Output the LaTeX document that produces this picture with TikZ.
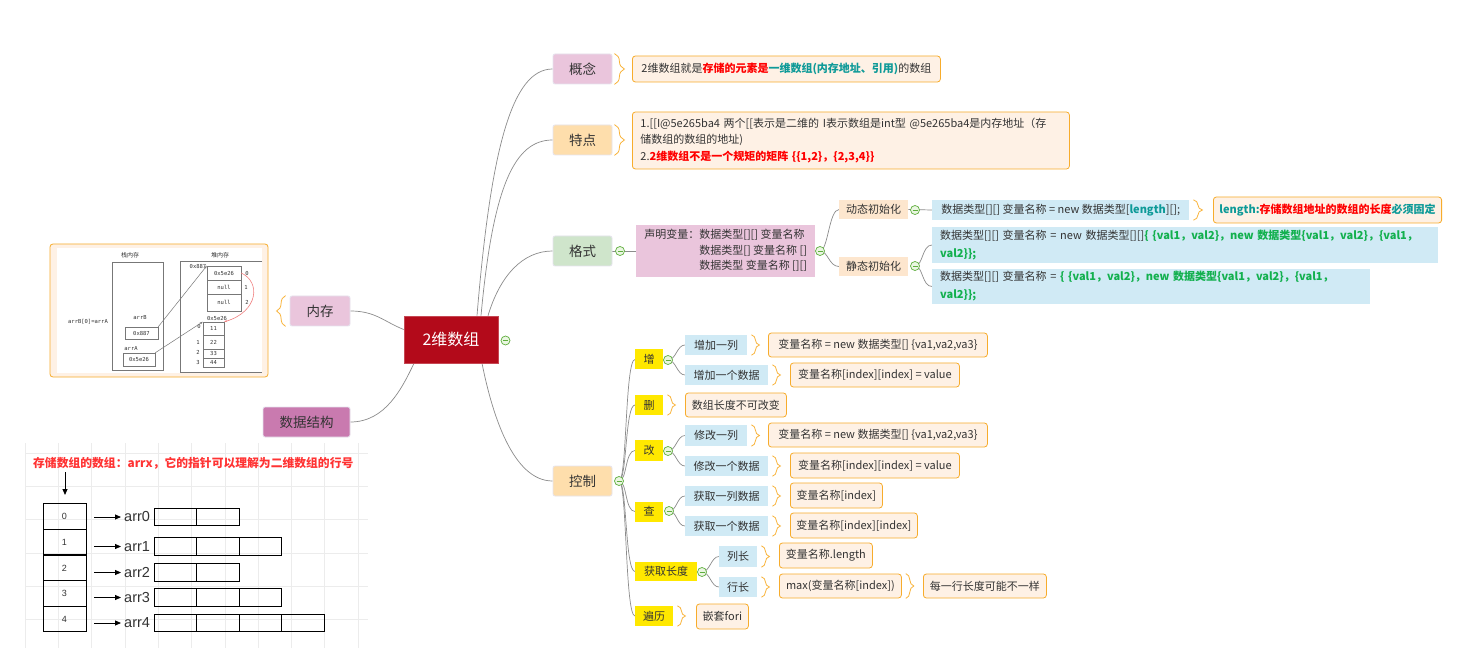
\documentclass[tikz,border=0pt]{standalone}
\usepackage{fontspec}
\setmainfont{Noto Sans CJK SC}
\newfontfamily\arialf{Liberation Sans}
\newfontfamily\monof{DejaVu Sans Mono}
\usetikzlibrary{decorations.pathreplacing,arrows.meta,calc}
\definecolor{txt}{HTML}{333333}
\definecolor{connc}{HTML}{8C8C8C}
\definecolor{rootf}{HTML}{B30A1A}
\definecolor{pinkf}{HTML}{EAC5DC}
\definecolor{orf}{HTML}{FEDEAC}
\definecolor{grf}{HTML}{CFE5CB}
\definecolor{mauvef}{HTML}{C97AAF}
\definecolor{leaff}{HTML}{FEF1E5}
\definecolor{leafb}{HTML}{F7AC2C}
\definecolor{bluef}{HTML}{D0EAF5}
\definecolor{yelf}{HTML}{FFE800}
\definecolor{lorf}{HTML}{FDE6CE}
\definecolor{minusg}{HTML}{5FAE3E}
\definecolor{minusf}{HTML}{EAF6E2}
\definecolor{redt}{HTML}{FF0000}
\definecolor{tealt}{HTML}{0E9A98}
\definecolor{greent}{HTML}{12B04E}
\definecolor{bracec}{HTML}{F9B43C}
\definecolor{lbord}{HTML}{E6E4EE}
\definecolor{gridc}{HTML}{ECECEC}
\definecolor{titred}{HTML}{FF3333}
\definecolor{memg}{HTML}{777777}
\definecolor{memr}{HTML}{F08080}
\pgfdeclarelayer{bgl}
\pgfdeclarelayer{conl}
\pgfsetlayers{bgl,conl,main}
\begin{document}
\begin{tikzpicture}[x=1pt,y=-1pt,
  every node/.style={text=txt},
  conn/.style={draw=connc, line width=0.7pt},
  lone/.style={draw=lbord, line width=0.8pt, rounded corners=2pt, fill=#1, minimum width=59, minimum height=30, font=\fontsize{13.5}{16}\selectfont, inner sep=0pt},
  leafbox/.style={draw=leafb, fill=leaff, line width=0.8pt, rounded corners=3pt, font=\fontsize{11}{16.5}\selectfont, inner xsep=6pt, inner ysep=2pt, anchor=west},
  bluebox/.style={fill=bluef, font=\fontsize{11}{18}\selectfont, inner xsep=6pt, inner ysep=1pt, anchor=west},
  yelbox/.style={fill=yelf, font=\fontsize{11}{13}\selectfont, inner sep=0pt, anchor=west},
  lorbox/.style={fill=lorf, font=\fontsize{11}{13}\selectfont, inner sep=0pt, anchor=west, minimum width=69, minimum height=19},
  mn/.style={circle, draw=minusg, fill=minusf, line width=0.7pt, minimum size=9pt, inner sep=0pt,
    path picture={\draw[minusg, line width=0.8pt] ([xshift=2pt]path picture bounding box.west) -- ([xshift=-2pt]path picture bounding box.east);}},
  brc/.style={draw=bracec, line width=0.8pt, decorate, decoration={brace, amplitude=#1}},
  brc/.default=8pt,
  mt/.style={font=\fontsize{6}{7}\selectfont, inner sep=0pt},
  mm/.style={font=\monof\fontsize{5.5}{6.5}\selectfont, inner sep=0pt},
  arrw/.style={-{Triangle[length=6pt,width=5pt]}, line width=0.8pt},
]
\begin{pgfonlayer}{bgl}
\fill[white] (0,0) rectangle (1473,660);
\foreach \k in {0,...,10} \draw[gridc, line width=0.5pt] (25+33.3*\k,443) -- (25+33.3*\k,648);
\foreach \k in {0,...,5} \draw[gridc, line width=0.5pt] (25,453+33.3*\k) -- (368,453+33.3*\k);
\end{pgfonlayer}
\useasboundingbox (0,0) rectangle (1473,660);

% ---------- root and level 1 ----------
\node[fill=rootf, draw=rootf!75!white, line width=0.6pt, minimum width=94, minimum height=47, font=\fontsize{16}{18}\selectfont, text=white, inner sep=0pt] (root) at (451,339.5) {2维数组};
\node[mn] (rootm) at (505.5,340.5) {};
\node[lone=pinkf] (gn) at (582.5,69) {概念};
\node[lone=orf] (td) at (582.5,140) {特点};
\node[lone=grf] (gs) at (582.5,251) {格式};
\node[lone=orf] (kz) at (582.5,481) {控制};
\node[lone=pinkf, minimum width=60] (nc) at (320,311) {内存};
\node[lone=mauvef, minimum width=87] (sj) at (306.5,422) {数据结构};

% ---------- 概念 / 特点 ----------
\node[leafbox, minimum width=308, minimum height=26] (gnl) at (632,69) {2维数组就是{\color{redt}\bfseries 存储的元素是}{\color{tealt}\bfseries 一维数组(内存地址、引用)}的数组};
\node[leafbox, minimum width=437, minimum height=57, text width=421pt, inner xsep=8pt, align=left] (tdl) at (632,140.5) {\mbox{1.[[I@5e265ba4 两个[[表示是二维的 I表示数组是int型 @5e265ba4是内存地址（存}\\\mbox{储数组的数组的地址)}\\\mbox{2.{\color{redt}\bfseries 2维数组不是一个规矩的矩阵 \{\{1,2\}，\{2,3,4\}\}}}};

% ---------- 格式 ----------
\node[mn] (gsm) at (620,251) {};
\node[fill=pinkf, anchor=west, minimum width=179, minimum height=52, font=\fontsize{11}{15.5}\selectfont, inner sep=0pt] (sm) at (636,251) {\begin{tabular}{@{}l@{}l@{}}声明变量：&数据类型[][] 变量名称\\ &数据类型[] 变量名称 []\\ &数据类型 变量名称 [][]\end{tabular}};
\node[mn] (smm) at (820,251) {};
\node[lorbox] (dt) at (839,209.5) {动态初始化};
\node[lorbox] (jt) at (839,266.5) {静态初始化};
\node[mn] (dtm) at (915,210) {};
\node[mn] (jtm) at (915,266) {};
\node[bluebox, minimum width=257, minimum height=20] (dtc) at (932,210) {数据类型[][] 变量名称 = new 数据类型[{\color{tealt}\bfseries length}][];};
\node[leafbox, minimum width=227, minimum height=26] (lenl) at (1213,210) {{\color{tealt}\bfseries length:}{\color{redt}\bfseries 存储数组地址的数组的长度}{\color{tealt}\bfseries 必须固定}};
\node[bluebox, minimum width=506, minimum height=36, text width=490pt, inner xsep=8pt, align=left] (jt1) at (932,245) {\mbox{数据类型[][] 变量名称 = new 数据类型[][]{\color{greent}\bfseries \{ \{val1，val2\}，new 数据类型\{val1，val2\}，\{val1，}}\\\mbox{\color{greent}\bfseries val2\}\};}};
\node[bluebox, minimum width=438, minimum height=35, text width=422pt, inner xsep=8pt, align=left] (jt2) at (932,286.5) {\mbox{数据类型[][] 变量名称 = {\color{greent}\bfseries \{ \{val1，val2\}，new 数据类型\{val1，val2\}，\{val1，}}\\\mbox{\color{greent}\bfseries val2\}\};}};

% ---------- 控制 ----------
\node[mn] (kzm) at (619,481) {};
\node[yelbox, minimum width=28, minimum height=20] (z) at (635,359.5) {增};
\node[yelbox, minimum width=28, minimum height=20] (s) at (635,405) {删};
\node[yelbox, minimum width=28, minimum height=21] (g) at (635,450.5) {改};
\node[yelbox, minimum width=28, minimum height=20] (c) at (635,511.5) {查};
\node[yelbox, minimum width=62, minimum height=19] (hq) at (635,571.5) {获取长度};
\node[yelbox, minimum width=38, minimum height=20] (bl) at (635,616) {遍历};
\node[mn] (zm) at (668,360) {};
\node[mn] (gm) at (668,451) {};
\node[mn] (cm) at (669,511) {};
\node[mn] (hqm) at (702,572) {};
\node[bluebox, inner sep=0pt, minimum width=62, minimum height=20] (zl1) at (685,345) {增加一列};
\node[bluebox, inner sep=0pt, minimum width=83, minimum height=20] (zl2) at (685,375) {增加一个数据};
\node[bluebox, inner sep=0pt, minimum width=62, minimum height=21] (gl1) at (685,435.5) {修改一列};
\node[bluebox, inner sep=0pt, minimum width=83, minimum height=20] (gl2) at (685,466) {修改一个数据};
\node[bluebox, inner sep=0pt, minimum width=83, minimum height=20] (cl1) at (685,496) {获取一列数据};
\node[bluebox, inner sep=0pt, minimum width=83, minimum height=20] (cl2) at (685,526) {获取一个数据};
\node[bluebox, inner sep=0pt, minimum width=38, minimum height=21] (hl1) at (719,556.5) {列长};
\node[bluebox, inner sep=0pt, minimum width=38, minimum height=20] (hl2) at (719,587) {行长};
\node[leafbox, minimum width=219, minimum height=24] (zl1L) at (768,345) {变量名称 = new 数据类型[] \{va1,va2,va3\}};
\node[leafbox, minimum width=169, minimum height=24] (zl2L) at (790,375) {变量名称[index][index] = value};
\node[leafbox, minimum width=101, minimum height=24] (sL) at (685,405) {数组长度不可改变};
\node[leafbox, minimum width=219, minimum height=24] (gl1L) at (768,435) {变量名称 = new 数据类型[] \{va1,va2,va3\}};
\node[leafbox, minimum width=169, minimum height=25] (gl2L) at (790,465.5) {变量名称[index][index] = value};
\node[leafbox, minimum width=92, minimum height=25] (cl1L) at (790,495.5) {变量名称[index]};
\node[leafbox, minimum width=127, minimum height=25] (cl2L) at (790,525.5) {变量名称[index][index]};
\node[leafbox, minimum width=93, minimum height=25] (hl1L) at (779,555.5) {变量名称.length};
\node[leafbox, minimum width=122, minimum height=24] (hl2L) at (779,586) {max(变量名称[index])};
\node[leafbox, minimum width=123, minimum height=24] (hl2M) at (923,586) {每一行长度可能不一样};
\node[leafbox, minimum width=52, minimum height=25] (blL) at (696,616.5) {嵌套fori};

% ---------- braces ----------
\foreach \n in {gn,td} \draw[brc=10pt] ([xshift=2]\n.north east) -- ([xshift=2]\n.south east);
\foreach \n in {zl1,zl2,s,gl1,gl2,cl1,cl2,hl1,hl2,hl2L,bl} \draw[brc] ([xshift=4]\n.north east) -- ([xshift=4]\n.south east);
\draw[brc=9pt] ([xshift=4]dtc.north east) -- ([xshift=4]dtc.south east);
\draw[brc=9pt] ([xshift=-4]nc.south west) -- ([xshift=-4]nc.north west);

% ---------- connectors ----------
\begin{pgfonlayer}{conl}
\draw[conn] ([xshift=26]root.north) .. controls +(14,-170) and +(-40,0) .. (gn.west);
\draw[conn] ([xshift=30]root.north) .. controls +(12,-130) and +(-38,0) .. (td.west);
\draw[conn] ([xshift=37]root.north) .. controls +(12,-40) and +(-30,0) .. (gs.west);
\draw[conn] ([xshift=31]root.south) .. controls +(10,50) and +(-40,0) .. (kz.west);
\draw[conn] (nc.east) .. controls +(25,0) and +(-20,-8) .. ([yshift=10pt]root.west);
\draw[conn] (sj.east) .. controls +(35,0) and +(-12,25) .. ([xshift=-37]root.south);
\draw[conn] (gs.east) -- (sm.west);
\draw[conn] (smm.center) .. controls +(8,0) and +(-10,0) .. (dt.west);
\draw[conn] (smm.center) .. controls +(8,0) and +(-10,0) .. (jt.west);
\draw[conn] (dt.east) -- (dtc.west);
\draw[conn] (jtm.center) .. controls +(8,0) and +(-10,0) .. (jt1.west);
\draw[conn] (jtm.center) .. controls +(8,0) and +(-10,0) .. (jt2.west);
\foreach \n in {z,s,g,c,hq,bl} \draw[conn] (kzm.center) .. controls +(8,0) and +(-10,0) .. (\n.west);
\foreach \n in {zl1,zl2} \draw[conn] (zm.center) .. controls +(8,0) and +(-8,0) .. (\n.west);
\foreach \n in {gl1,gl2} \draw[conn] (gm.center) .. controls +(8,0) and +(-8,0) .. (\n.west);
\foreach \n in {cl1,cl2} \draw[conn] (cm.center) .. controls +(8,0) and +(-8,0) .. (\n.west);
\foreach \n in {hl1,hl2} \draw[conn] (hqm.center) .. controls +(8,0) and +(-8,0) .. (\n.west);
\end{pgfonlayer}

% ---------- memory picture ----------
\node[leafbox, anchor=center, minimum width=218, minimum height=133, inner sep=0pt] (mem) at (159,310.5) {};
\fill[white] (57,248) rectangle (262,373);
\node[mt] (stk) at (130,255) {栈内存};
\node[mt] (hp) at (220,255) {堆内存};
\draw[memg, line width=0.6pt] (112,262) rectangle (163,370);
\draw[memg, line width=0.6pt] (262,261) -- (180,261) -- (180,372) -- (262,372);
\node[mm] (eq) at (88,322) {arrB[0]=arrA};
\node[mm] (lb) at (140,318) {arrB};
\node[mm, draw=memg, minimum width=33, minimum height=12] (b887) at (141.5,333) {0x887};
\node[mm] (la) at (131,349) {arrA};
\node[mm, draw=memg, minimum width=32, minimum height=13] (b5e) at (139,359.5) {0x5e26};
\node[mm] (h887) at (198,266) {0x887};
\node[mm, draw=memg, minimum width=34, minimum height=14] (u0) at (224,273) {0x5e26};
\node[mm, draw=memg, minimum width=34, minimum height=14] (u1) at (224,287) {null};
\node[mm, draw=memg, minimum width=34, minimum height=17] (u2) at (224,302.5) {null};
\node[mm] (ui0) at (247,273) {0};
\node[mm] (ui1) at (246,287) {1};
\node[mm] (ui2) at (247,302) {2};
\node[mm] (h5e) at (217,318) {0x5e26};
\node[mm, draw=memg, minimum width=21, minimum height=13] (l0) at (213.5,328.5) {11};
\node[mm, draw=memg, minimum width=21, minimum height=14] (l1) at (213.5,342) {22};
\node[mm, draw=memg, minimum width=21, minimum height=9] (l2) at (213.5,353.5) {33};
\node[mm, draw=memg, minimum width=21, minimum height=9] (l3) at (213.5,362.5) {44};
\node[mm] (li0) at (199,326) {0};
\node[mm] (li1) at (198,342) {1};
\node[mm] (li2) at (198,352) {2};
\node[mm] (li3) at (198,362) {3};
\draw[memg, line width=0.5pt, -{Stealth[length=3pt]}] (b887.north east) -- (u0.north west);
\draw[memg, line width=0.5pt, -{Stealth[length=3pt]}] (b5e.north east) -- (l0.north west);
\draw[memr, line width=0.6pt, -{Stealth[length=3pt]}] (u0.east) .. controls +(20,9) and +(34,-10) .. (l0.north east);

% ---------- array of arrays ----------
\node[font=\fontsize{11.8}{14}\selectfont\bfseries, text=titred, anchor=west, inner sep=0pt] (ttl) at (33,463) {存储数组的数组：arrx，它的指针可以理解为二维数组的行号};
\coordinate (dwn) at (65,495);
\draw[arrw] (ttl.south west -| dwn) ++(0,3) -- (dwn);
\foreach \i/\y in {0/516.5,1/542,2/568,3/593.5,4/619}
  \node[draw, line width=0.8pt, minimum width=43, minimum height=25.6, inner sep=0pt, font=\arialf\fontsize{9}{10}\selectfont] (i\i) at (64.5,\y) {\i};
\foreach \i/\y/\m in {0/517/1,1/546.5/2,2/572.5/1,3/597.5/2,4/623/3}{
  \node[anchor=west, font=\arialf\fontsize{14.5}{16}\selectfont, inner sep=0pt] (a\i) at (124,\y) {arr\i};
  \coordinate (s\i) at (94,\y);
  \draw[arrw] (s\i) -- ([xshift=-3]a\i.west);
  \foreach \k in {0,...,\m}
    \node[draw, line width=0.8pt, minimum width=42.5, minimum height=17.5, inner sep=0pt] (c\i\k) at (175.25+42.5*\k,\y) {};
}
\end{tikzpicture}
\end{document}
